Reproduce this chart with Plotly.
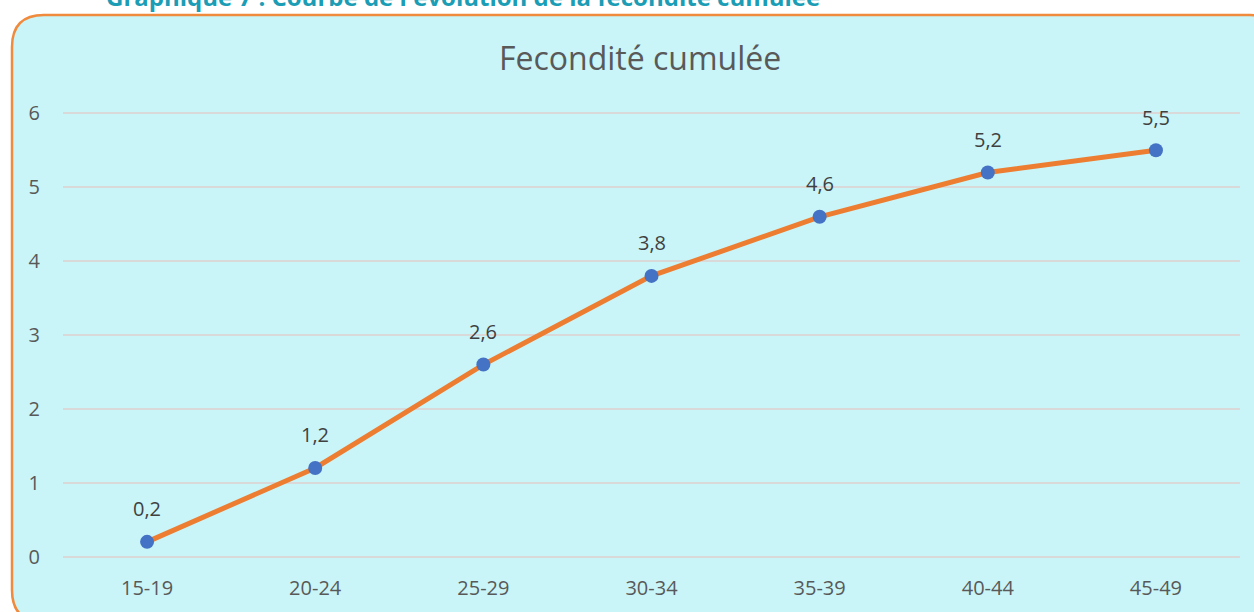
import plotly.graph_objects as go

categories = ["15-19", "20-24", "25-29", "30-34", "35-39", "40-44", "45-49"]
values = [0.2, 1.2, 2.6, 3.8, 4.6, 5.2, 5.5]
labels = ["0,2", "1,2", "2,6", "3,8", "4,6", "5,2", "5,5"]
y_ticks = [0, 1, 2, 3, 4, 5, 6]

W, H = 1254, 612
L, R, T, B = 63, 14, 106, 48
PW, PH = W - L - R, H - T - B


def px(x):
    return (x - L) / PW


def py(y):
    return (H - B - y) / PH


fig = go.Figure()
fig.add_trace(go.Scatter(
    x=categories, y=values, mode="lines+markers",
    line=dict(color="#ED7D31", width=5),
    marker=dict(color="#4472C4", size=14),
    cliponaxis=False, showlegend=False,
))
for c, v, t in zip(categories, values, labels):
    fig.add_annotation(x=c, y=v, text=t, showarrow=False, yshift=33,
                       font=dict(size=20, color="#404040", family="Open Sans"))

# rounded border
x0, y0, x1, y1, r = 12, 15, 1282, 622, 32
path = (f"M {px(x0)},{py(y0 + r)} Q {px(x0)},{py(y0)} {px(x0 + r)},{py(y0)} "
        f"L {px(x1 - r)},{py(y0)} Q {px(x1)},{py(y0)} {px(x1)},{py(y0 + r)} "
        f"L {px(x1)},{py(y1 - r)} Q {px(x1)},{py(y1)} {px(x1 - r)},{py(y1)} "
        f"L {px(x0 + r)},{py(y1)} Q {px(x0)},{py(y1)} {px(x0)},{py(y1 - r)} Z")
fig.add_shape(type="path", path=path, xref="paper", yref="paper",
              fillcolor="#C9F5F8", line=dict(color="#F08A3C", width=2.5), layer="below")

fig.add_annotation(text="<b>Graphique 7 : Courbe de l'évolution de la fécondité cumulée</b>",
                   xref="paper", yref="paper", x=px(104), y=py(-4), xanchor="left", yanchor="middle",
                   showarrow=False, font=dict(size=24, color="#1B9DB5", family="Open Sans"))
fig.add_annotation(text="Fecondité cumulée", xref="paper", yref="paper",
                   x=px(640), y=py(57), xanchor="center", yanchor="middle",
                   showarrow=False, font=dict(size=32, color="#595959", family="Open Sans"))

fig.update_layout(
    width=W, height=H,
    margin=dict(l=L, r=R, t=T, b=B),
    paper_bgcolor="white", plot_bgcolor="rgba(0,0,0,0)",
    font=dict(family="Open Sans", color="#595959", size=20),
    xaxis=dict(range=[-0.5, 6.5], showgrid=False, showline=False, zeroline=False, ticks="",
               automargin=False, ticklabelstandoff=10, tickfont=dict(size=20, color="#595959")),
    yaxis=dict(range=[-0.1, 6.1], tickvals=y_ticks, showgrid=True, gridcolor="#D9D9D9",
               gridwidth=2, zeroline=False, showline=False, ticks="", ticklabelstandoff=22,
               automargin=False, tickfont=dict(size=20, color="#595959")),
)

fig.write_html("out.html", config={"displayModeBar": False},
               post_script=["document.body.style.margin='0';"])
